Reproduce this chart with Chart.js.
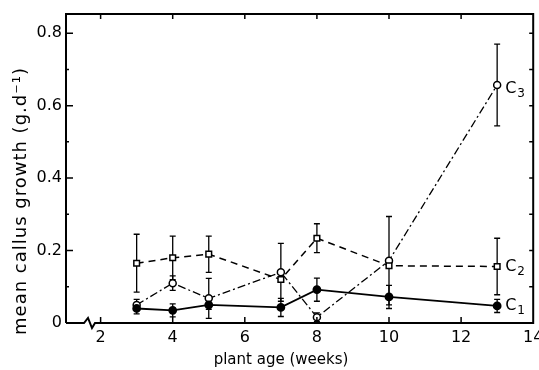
<!DOCTYPE html>
<html>
<head>
<meta charset="utf-8">
<script src="https://cdn.jsdelivr.net/npm/chart.js@4.4.1/dist/chart.umd.min.js"></script>
<style>
  body { margin: 0; background: #fff; }
  #wrap { width: 539px; height: 370px; position: relative; }
</style>
</head>
<body>
<div id="wrap"><canvas id="myChart"></canvas></div>
<script>
// data
const weeks = [3, 4, 5, 7, 8, 10, 13];
const c1 = [0.040, 0.035, 0.050, 0.043, 0.092, 0.072, 0.047];
const c1Err = [0.015, 0.018, 0.012, 0.025, 0.032, 0.032, 0.018];
const c2 = [0.165, 0.180, 0.190, 0.120, 0.234, 0.158, 0.156];
const c2Err = [0.080, 0.060, 0.050, 0, 0.040, 0, 0.078];
const c3 = [0.050, 0.110, 0.068, 0.140, 0.016, 0.172, 0.657];
const c3Err = [0.015, 0.020, 0.055, 0.080, 0.012, 0.122, 0.113];
const seriesNames = ['C1', 'C2', 'C3'];

const xTicks = [2, 4, 6, 8, 10, 12, 14];
const yTicks = [0, 0.2, 0.4, 0.6, 0.8];
const yTickLabels = ['0', '0.2', '0.4', '0.6', '0.8'];
const yMinor = [0.1, 0.3, 0.5, 0.7];

const FONT = '"DejaVu Sans", sans-serif';

function pts(ys) {
  return weeks.map((w, i) => ({ x: w, y: ys[i] }));
}

const errors = [c1Err, c2Err, c3Err];

// error bars, drawn under the markers
const errorBars = {
  id: 'errorBars',
  beforeDatasetsDraw(chart) {
    const ctx = chart.ctx;
    const xs = chart.scales.x, ys = chart.scales.y;
    ctx.save();
    ctx.strokeStyle = '#000';
    ctx.lineWidth = 1.3;
    chart.data.datasets.forEach((ds, d) => {
      ds.data.forEach((p, i) => {
        const e = errors[d][i];
        if (!e) return;
        const px = xs.getPixelForValue(p.x);
        const top = ys.getPixelForValue(p.y + e);
        const bot = ys.getPixelForValue(p.y - e);
        ctx.beginPath();
        ctx.moveTo(px, top); ctx.lineTo(px, bot);
        ctx.moveTo(px - 3, top); ctx.lineTo(px + 3, top);
        ctx.moveTo(px - 3, bot); ctx.lineTo(px + 3, bot);
        ctx.stroke();
      });
    });
    ctx.restore();
  }
};

// frame, inward ticks, axis break, titles and series labels
const frame = {
  id: 'frame',
  afterDraw(chart) {
    const ctx = chart.ctx;
    const a = chart.chartArea;
    const xs = chart.scales.x, ys = chart.scales.y;
    ctx.save();
    ctx.strokeStyle = '#000';
    ctx.lineWidth = 2;
    ctx.beginPath();
    // left, top, right
    ctx.moveTo(a.left, a.bottom); ctx.lineTo(a.left, a.top);
    ctx.lineTo(a.right, a.top); ctx.lineTo(a.right, a.bottom);
    // bottom with break
    ctx.lineTo(a.left + 29, a.bottom);
    ctx.lineTo(a.left + 26, a.bottom + 5);
    ctx.lineTo(a.left + 22, a.bottom - 5);
    ctx.lineTo(a.left + 18, a.bottom);
    ctx.lineTo(a.left, a.bottom);
    ctx.stroke();

    ctx.lineWidth = 1.5;
    ctx.beginPath();
    yTicks.forEach(v => {
      if (v === 0) return;
      const py = ys.getPixelForValue(v);
      ctx.moveTo(a.left, py); ctx.lineTo(a.left + 7, py);
      ctx.moveTo(a.right, py); ctx.lineTo(a.right - 4, py);
    });
    yMinor.forEach(v => {
      const py = ys.getPixelForValue(v);
      ctx.moveTo(a.left, py); ctx.lineTo(a.left + 3, py);
      ctx.moveTo(a.right, py); ctx.lineTo(a.right - 4, py);
    });
    xTicks.forEach(v => {
      if (v === 14) return;
      const px = xs.getPixelForValue(v);
      ctx.moveTo(px, a.bottom); ctx.lineTo(px, a.bottom - 6);
      ctx.moveTo(px, a.top); ctx.lineTo(px, a.top + 5);
    });
    ctx.stroke();

    ctx.fillStyle = '#000';
    // axis titles
    ctx.font = '15px ' + FONT;
    ctx.textAlign = 'center';
    ctx.textBaseline = 'middle';
    ctx.fillText('plant age (weeks)', a.left + 215, 360);
    ctx.save();
    ctx.translate(21, a.top + 187);
    ctx.rotate(-Math.PI / 2);
    ctx.font = '18px ' + FONT;
    ctx.letterSpacing = '1px';
    ctx.fillText('mean callus growth (g.d\u207B\u00B9)', 0, 0);
    ctx.restore();

    // series labels at the last point
    const last = weeks.length - 1;
    [c1, c2, c3].forEach((s, d) => {
      const px = xs.getPixelForValue(weeks[last]) + 8;
      const py = ys.getPixelForValue(s[last]) + (d === 2 ? 4 : 0);
      ctx.textAlign = 'left';
      ctx.font = '16px ' + FONT;
      ctx.fillText(seriesNames[d][0], px, py);
      const w = ctx.measureText(seriesNames[d][0]).width;
      ctx.font = '12px ' + FONT;
      ctx.fillText(seriesNames[d].slice(1), px + w + 1, py + 5);
    });
    ctx.restore();
  }
};

const ctx = document.getElementById('myChart');
new Chart(ctx, {
  type: 'line',
  data: {
    datasets: [{
      label: seriesNames[0],
      data: pts(c1),
      borderColor: '#000',
      borderWidth: 1.8,
      pointStyle: 'circle',
      pointRadius: 3.5,
      pointBackgroundColor: '#000',
      pointBorderColor: '#000',
      tension: 0
    }, {
      label: seriesNames[1],
      data: pts(c2),
      borderColor: '#000',
      borderWidth: 1.5,
      borderDash: [7, 5],
      pointStyle: 'rect',
      pointRadius: 4,
      pointBackgroundColor: '#fff',
      pointBorderColor: '#000',
      pointBorderWidth: 1.5,
      tension: 0
    }, {
      label: seriesNames[2],
      data: pts(c3),
      borderColor: '#000',
      borderWidth: 1.3,
      borderDash: [8, 3, 2, 3],
      pointStyle: 'circle',
      pointRadius: 3.5,
      pointBackgroundColor: '#fff',
      pointBorderColor: '#000',
      pointBorderWidth: 1.5,
      tension: 0
    }]
  },
  options: {
    responsive: true,
    maintainAspectRatio: false,
    animation: false,
    layout: { padding: { top: 14, right: 4, left: 0, bottom: 0 } },
    plugins: { legend: { display: false }, tooltip: { enabled: false } },
    scales: {
      x: {
        type: 'linear',
        min: 1.04,
        max: 14,
        grid: { display: false, drawTicks: false },
        border: { display: false },
        afterBuildTicks: s => { s.ticks = xTicks.map(v => ({ value: v })); },
        afterFit: s => { s.height = 47; s.paddingLeft = 0; s.paddingRight = 0; },
        ticks: {
          color: '#000',
          padding: 5,
          maxRotation: 0,
          font: { family: FONT, size: 16 },
          callback: v => String(v)
        }
      },
      y: {
        type: 'linear',
        min: 0,
        max: 0.853,
        grid: { display: false, drawTicks: false },
        border: { display: false },
        afterBuildTicks: s => { s.ticks = yTicks.map(v => ({ value: v })); },
        afterFit: s => { s.width = 66; s.paddingTop = 0; s.paddingBottom = 0; },
        ticks: {
          color: '#000',
          padding: 4,
          font: { family: FONT, size: 16 },
          callback: (v, i) => yTickLabels[i]
        }
      }
    }
  },
  plugins: [errorBars, frame]
});
</script>
</body>
</html>
